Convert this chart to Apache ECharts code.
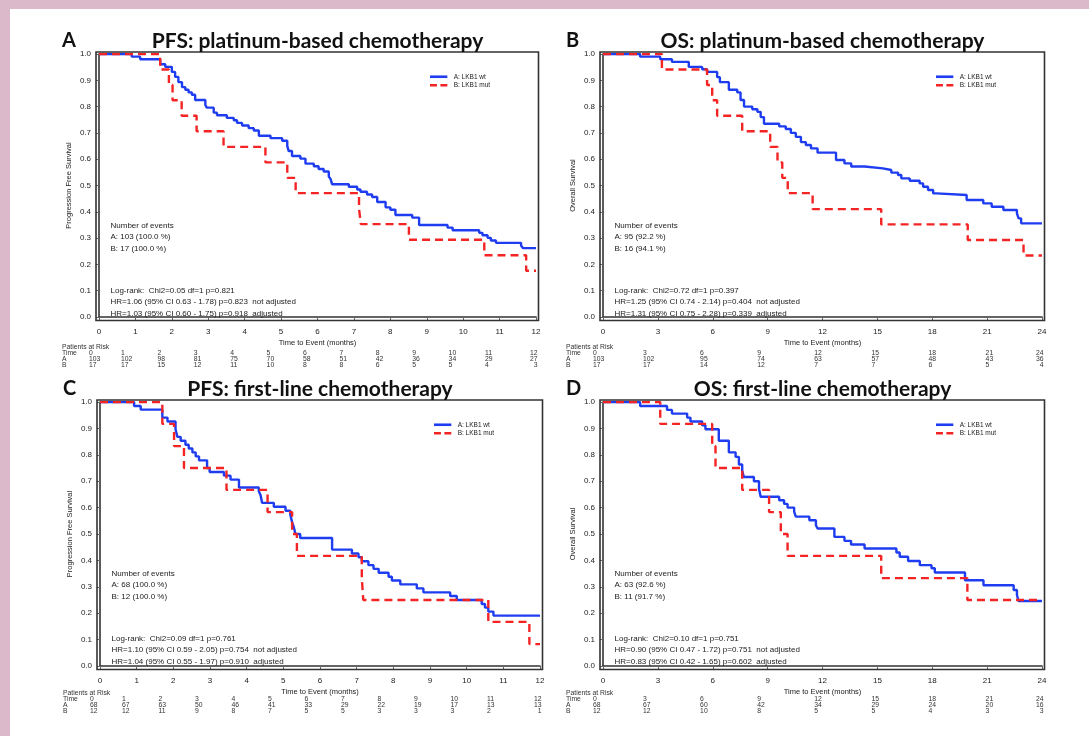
<!DOCTYPE html>
<html>
<head>
<meta charset="utf-8">
<script src="https://cdn.jsdelivr.net/npm/echarts@6/dist/echarts.min.js"></script>
<style>
html,body{margin:0;padding:0;background:#fff;}
#c{width:1089px;height:736px;}
</style>
</head>
<body>
<div id="c"></div>
<script>
// ---------------- DATA ----------------
// Kaplan-Meier step points [time (months), survival]
const pfsPlatWt = [[0,1],[0.9,0.99],[1.13,0.98],[1.68,0.961],[1.82,0.951],[2.0,0.932],[2.09,0.913],[2.18,0.893],[2.28,0.874],[2.37,0.864],[2.46,0.854],[2.55,0.845],[2.64,0.825],[2.92,0.806],[2.96,0.796],[3.15,0.777],[3.24,0.767],[3.51,0.757],[3.70,0.748],[3.79,0.738],[3.93,0.728],[4.11,0.718],[4.25,0.709],[4.39,0.689],[4.71,0.680],[5.03,0.670],[5.17,0.650],[5.21,0.631],[5.30,0.612],[5.53,0.602],[5.67,0.583],[5.9,0.573],[6.03,0.563],[6.17,0.553],[6.31,0.534],[6.36,0.524],[6.40,0.505],[6.86,0.495],[7.09,0.485],[7.18,0.476],[7.36,0.466],[7.5,0.456],[7.64,0.437],[7.87,0.417],[8.0,0.408],[8.14,0.388],[8.6,0.378],[8.79,0.35],[9.57,0.34],[9.71,0.33],[10.44,0.32],[10.53,0.311],[10.67,0.301],[10.76,0.291],[10.9,0.282],[11.59,0.272],[11.64,0.262],[12,0.262]];
const pfsPlatMut = [[0,1],[1.68,0.941],[1.92,0.882],[2.02,0.824],[2.27,0.765],[2.68,0.706],[3.42,0.647],[4.57,0.588],[5.17,0.529],[5.40,0.471],[7.14,0.412],[7.19,0.353],[8.51,0.294],[10.58,0.235],[11.73,0.176],[12,0.176]];
const osPlatWt = [[0,1],[2.03,0.99],[3.13,0.98],[3.77,0.97],[4.69,0.951],[5.42,0.942],[5.69,0.932],[6.24,0.912],[6.39,0.893],[6.88,0.864],[7.34,0.854],[7.52,0.825],[7.71,0.80],[8.16,0.79],[8.44,0.78],[8.62,0.76],[8.80,0.735],[9.63,0.725],[9.99,0.715],[10.27,0.70],[10.54,0.685],[10.82,0.665],[11.09,0.654],[11.37,0.641],[11.73,0.625],[12.74,0.597],[13.2,0.584],[13.57,0.572],[14.3,0.565],[15.3,0.559],[15.76,0.549],[16.13,0.54],[16.31,0.527],[16.77,0.518],[17.31,0.508],[17.5,0.495],[17.77,0.483],[18.05,0.47],[18.23,0.464],[19.88,0.445],[20.79,0.432],[21.25,0.419],[21.89,0.407],[22.63,0.394],[22.72,0.375],[22.86,0.356],[24,0.356]];
const osPlatMut = [[0,1],[3.22,0.941],[5.69,0.882],[5.97,0.824],[6.24,0.765],[7.61,0.706],[9.14,0.647],[9.54,0.588],[9.8,0.529],[10.1,0.471],[11.46,0.41],[15.21,0.352],[19.94,0.293],[22.99,0.234],[24,0.234]];
const pfsFirstWt = [[0,1],[0.93,0.985],[1.11,0.971],[1.70,0.941],[1.84,0.926],[2.06,0.897],[2.11,0.868],[2.20,0.853],[2.33,0.838],[2.42,0.824],[2.52,0.809],[2.61,0.794],[2.70,0.779],[2.92,0.75],[2.99,0.735],[3.38,0.721],[3.56,0.706],[3.79,0.676],[4.33,0.662],[4.38,0.647],[4.42,0.618],[4.74,0.603],[5.06,0.588],[5.19,0.574],[5.24,0.544],[5.28,0.529],[5.33,0.5],[5.46,0.485],[6.33,0.441],[6.87,0.426],[7.05,0.412],[7.14,0.397],[7.32,0.382],[7.46,0.368],[7.6,0.353],[7.87,0.338],[7.96,0.324],[8.19,0.309],[8.64,0.294],[8.82,0.279],[9.55,0.265],[9.73,0.25],[10.41,0.235],[10.5,0.221],[10.59,0.206],[10.73,0.191],[12,0.191]];
const pfsFirstMut = [[0,1],[1.70,0.917],[2.02,0.833],[2.29,0.75],[3.45,0.667],[4.57,0.583],[5.24,0.5],[5.37,0.417],[7.14,0.333],[7.18,0.25],[10.59,0.167],[11.71,0.083],[12,0.083]];
const osFirstWt = [[0,1],[2.03,0.985],[3.5,0.97],[3.77,0.956],[4.6,0.941],[4.78,0.926],[5.42,0.912],[5.6,0.897],[6.33,0.853],[6.88,0.809],[7.25,0.792],[7.43,0.763],[7.61,0.74],[7.7,0.716],[8.25,0.70],[8.53,0.67],[8.62,0.641],[9.63,0.628],[9.9,0.614],[10.09,0.6],[10.45,0.585],[10.54,0.566],[11.28,0.552],[11.64,0.533],[11.73,0.521],[12.65,0.489],[13.2,0.474],[13.56,0.46],[14.3,0.445],[16.04,0.43],[16.22,0.414],[16.68,0.398],[17.32,0.382],[17.96,0.37],[18.14,0.354],[19.79,0.325],[20.8,0.306],[22.45,0.288],[22.63,0.269],[22.72,0.246],[24,0.246]];
const osFirstMut = [[0,1],[3.13,0.917],[5.97,0.833],[6.15,0.75],[7.61,0.667],[9.08,0.583],[9.72,0.5],[10.09,0.417],[15.21,0.333],[19.92,0.25],[24,0.25]];

const seriesNames = ['A: LKB1 wt', 'B: LKB1 mut'];
const panelLetters = ['A', 'B', 'C', 'D'];
const panelTitles = ['PFS: platinum-based chemotherapy', 'OS: platinum-based chemotherapy', 'PFS: first-line chemotherapy', 'OS: first-line chemotherapy'];
const yAxisNames = ['Progression Free Survival', 'Overall Survival', 'Progression Free Survival', 'Overall Survival'];
const xAxisName = 'Time to Event (months)';

const riskTimes12 = ['0','1','2','3','4','5','6','7','8','9','10','11','12'];
const riskTimes24 = ['0','3','6','9','12','15','18','21','24'];
const riskPfsPlatA = [103,102,98,81,75,70,58,51,42,36,34,29,27];
const riskPfsPlatB = [17,17,15,12,11,10,8,8,6,5,5,4,3];
const riskOsPlatA = [103,102,95,74,63,57,48,43,36];
const riskOsPlatB = [17,17,14,12,7,7,6,5,4];
const riskPfsFirstA = [68,67,63,50,46,41,33,29,22,19,17,13,13];
const riskPfsFirstB = [12,12,11,9,8,7,5,5,3,3,3,2,1];
const riskOsFirstA = [68,67,60,42,34,29,24,20,16];
const riskOsFirstB = [12,12,10,8,5,5,4,3,3];

const eventsPfsPlat = ['Number of events', 'A: 103 (100.0 %)', 'B: 17 (100.0 %)'];
const eventsOsPlat = ['Number of events', 'A: 95 (92.2 %)', 'B: 16 (94.1 %)'];
const eventsPfsFirst = ['Number of events', 'A: 68 (100.0 %)', 'B: 12 (100.0 %)'];
const eventsOsFirst = ['Number of events', 'A: 63 (92.6 %)', 'B: 11 (91.7 %)'];
const statsPfsPlat = ['Log-rank:  Chi2=0.05 df=1 p=0.821', 'HR=1.06 (95% CI 0.63 - 1.78) p=0.823  not adjusted', 'HR=1.03 (95% CI 0.60 - 1.75) p=0.918  adjusted'];
const statsOsPlat = ['Log-rank:  Chi2=0.72 df=1 p=0.397', 'HR=1.25 (95% CI 0.74 - 2.14) p=0.404  not adjusted', 'HR=1.31 (95% CI 0.75 - 2.28) p=0.339  adjusted'];
const statsPfsFirst = ['Log-rank:  Chi2=0.09 df=1 p=0.761', 'HR=1.10 (95% CI 0.59 - 2.05) p=0.754  not adjusted', 'HR=1.04 (95% CI 0.55 - 1.97) p=0.910  adjusted'];
const statsOsFirst = ['Log-rank:  Chi2=0.10 df=1 p=0.751', 'HR=0.90 (95% CI 0.47 - 1.72) p=0.751  not adjusted', 'HR=0.83 (95% CI 0.42 - 1.65) p=0.602  adjusted'];

// ---------------- LAYOUT / STYLE ----------------
const FONT = '"Liberation Sans", Arial, sans-serif';
const TITLE_FONT = 'Lato, "Open Sans", sans-serif';
const BLUE = '#1e3cf0';
const RED = '#f42424';
const ICON_SOLID = 'path://M0,0H20V3H0Z';
const ICON_DASH = 'path://M0,0H8V3H0Z M12,0H20V3H12Z';

const panels = [
  {g:{left:99, top:54, width:437, height:263}, xmax:12, xint:1, wt:pfsPlatWt, mut:pfsPlatMut, times:riskTimes12, ra:riskPfsPlatA, rb:riskPfsPlatB, ev:eventsPfsPlat, st:statsPfsPlat, first:22, step:36.4, rowOff:30},
  {g:{left:603, top:54, width:439, height:263}, xmax:24, xint:3, wt:osPlatWt, mut:osPlatMut, times:riskTimes24, ra:riskOsPlatA, rb:riskOsPlatB, ev:eventsOsPlat, st:statsOsPlat, first:40, step:57.1, rowOff:30},
  {g:{left:100, top:402, width:440, height:264}, xmax:12, xint:1, wt:pfsFirstWt, mut:pfsFirstMut, times:riskTimes12, ra:riskPfsFirstA, rb:riskPfsFirstB, ev:eventsPfsFirst, st:statsPfsFirst, first:22, step:36.5, rowOff:27.5},
  {g:{left:603, top:402, width:439, height:264}, xmax:24, xint:3, wt:osFirstWt, mut:osFirstMut, times:riskTimes24, ra:riskOsFirstA, rb:riskOsFirstB, ev:eventsOsFirst, st:statsOsFirst, first:40, step:57.1, rowOff:27.5}
];

function txt(text, x, y, opts) {
  opts = opts || {};
  const align = opts.align || 'left';
  const va = opts.va || 'middle';
  return {
    type: 'text', x: x, y: y, z: 20, silent: true,
    style: {
      text: text,
      fontSize: opts.size || 7.5,
      fontFamily: opts.family || FONT,
      fontWeight: opts.weight || 'normal',
      fill: opts.color || '#222',
      align: align, textAlign: align,
      verticalAlign: va, textVerticalAlign: va
    }
  };
}

const graphic = [];
// pink page border
graphic.push({type:'rect', z:0, silent:true, shape:{x:0, y:0, width:10, height:736}, style:{fill:'#dcb9ca'}});
graphic.push({type:'rect', z:0, silent:true, shape:{x:0, y:0, width:1089, height:9}, style:{fill:'#dcb9ca'}});

panels.forEach((p, i) => {
  const g = p.g;
  const right = g.left + g.width;
  const bottom = g.top + g.height;
  // frame
  graphic.push({type:'rect', z:5, silent:true, shape:{x:g.left - 3, y:g.top - 2, width:g.width + 5.5, height:g.height + 5.5}, style:{fill:'none', stroke:'#333', lineWidth:1.6}});
  // panel letter and title
  graphic.push(txt(panelLetters[i], g.left - 37, g.top - 13, {size:20, weight:'bold', family:TITLE_FONT, color:'#111'}));
  graphic.push(txt(panelTitles[i], g.left + g.width / 2, g.top - 13, {size:21, weight:'bold', family:TITLE_FONT, color:'#111', align:'center'}));
  // event counts
  p.ev.forEach((t, k) => graphic.push(txt(t, g.left + 11.5, g.top + 172 + k * 11.2, {size:8})));
  p.st.forEach((t, k) => graphic.push(txt(t, g.left + 11.5, g.top + 237 + k * 11.2, {size:8})));
  // patients at risk table
  const lx = g.left - 37;
  const ry = bottom + p.rowOff;
  const rs = 6;
  graphic.push(txt('Patients at Risk', lx, ry, {size:6.8, color:'#333'}));
  const rows = [['Time', p.times], ['A', p.ra], ['B', p.rb]];
  rows.forEach((r, ri) => {
    const y = ry + (ri + 1) * rs;
    graphic.push(txt(r[0], lx, y, {size:6.8, color:'#333'}));
    const n = r[1].length;
    r[1].forEach((v, k) => {
      let x, align = 'left';
      if (k === 0) x = g.left - 10;
      else if (k === n - 1) { x = right + 1.5; align = 'right'; }
      else x = g.left + p.first + (k - 1) * p.step;
      graphic.push(txt(String(v), x, y, {size:6.8, color:'#333', align: align}));
    });
  });
});

const series = [];
panels.forEach((p, i) => {
  series.push({
    type:'line', name:seriesNames[0], xAxisIndex:i, yAxisIndex:i, data:p.wt, step:'end',
    symbol:'none', showSymbol:false, color:BLUE, z:3,
    itemStyle:{color:BLUE},
    lineStyle:{color:BLUE, width:2.4}
  });
  series.push({
    type:'line', name:seriesNames[1], xAxisIndex:i, yAxisIndex:i, data:p.mut, step:'end',
    symbol:'none', showSymbol:false, color:RED, z:4,
    itemStyle:{color:RED},
    lineStyle:{color:RED, width:2.4, type:[8,5]}
  });
});

const option = {
  animation: false,
  backgroundColor: '#ffffff',
  grid: panels.map(p => Object.assign({containLabel:false}, p.g)),
  xAxis: panels.map((p, i) => ({
    gridIndex:i, type:'value', min:0, max:p.xmax, interval:p.xint, offset:3.5,
    axisLine:{show:true, lineStyle:{color:'#333', width:1.6}},
    axisTick:{show:true, length:3, lineStyle:{color:'#666', width:1}},
    axisLabel:{fontSize:8, color:'#222', margin:7, fontFamily:FONT},
    splitLine:{show:false},
    name:xAxisName, nameLocation:'middle', nameGap:18,
    nameTextStyle:{fontSize:7.5, color:'#222', fontFamily:FONT}
  })),
  yAxis: panels.map((p, i) => ({
    gridIndex:i, type:'value', min:0, max:1, interval:0.1, offset:3,
    axisLine:{show:true, lineStyle:{color:'#333', width:1.6}},
    axisTick:{show:true, length:3, lineStyle:{color:'#666', width:1}},
    axisLabel:{fontSize:8, color:'#222', margin:5, fontFamily:FONT, formatter:v => v.toFixed(1)},
    splitLine:{show:false},
    name:yAxisNames[i], nameLocation:'middle', nameGap:23,
    nameTextStyle:{fontSize:7.5, color:'#222', fontFamily:FONT}
  })),
  legend: panels.map(p => ({
    left: p.g.left + p.g.width - 106, top: p.g.top + 19,
    orient:'vertical', itemWidth:20, itemHeight:2.6, itemGap:1,
    selectedMode:false, padding:0,
    textStyle:{fontSize:6.5, color:'#222', fontFamily:FONT, lineHeight:7.5},
    data: [{name:seriesNames[0], icon:ICON_SOLID}, {name:seriesNames[1], icon:ICON_DASH}]
  })),
  series: series,
  graphic: graphic
};

const chart = echarts.init(document.getElementById('c'), null, {renderer:'canvas'});
chart.setOption(option);
</script>
</body>
</html>
